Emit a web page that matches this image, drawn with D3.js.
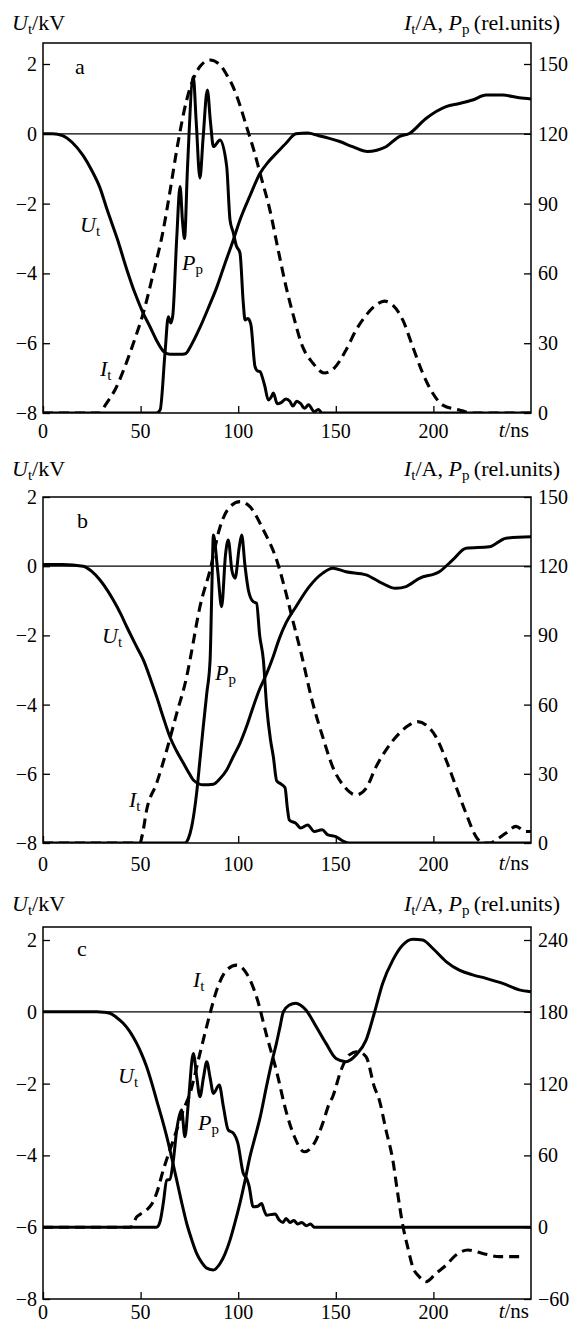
<!DOCTYPE html>
<html><head><meta charset="utf-8">
<script src="https://cdn.jsdelivr.net/npm/d3@7"></script>
<style>
body{margin:0;background:#fff}
svg{display:block}
text{font-family:"Liberation Serif","Times New Roman",Times,serif;fill:#000}
</style>
</head><body>
<svg id="chart" width="572" height="1326"></svg>
<script>
// ---------------- DATA ----------------
const xTicks = [0, 50, 100, 150, 200];
const leftTicks = [2, 0, -2, -4, -6, -8];
const rightTicksA = [150, 120, 90, 60, 30, 0];
const rightTicksB = [150, 120, 90, 60, 30, 0];
const rightTicksC = [240, 180, 120, 60, 0, -60];

// Panel a: U_t in kV (left axis), I_t and P_p on right axis
const uA = [[0,0],[5,0],[10,-0.05],[15,-0.25],[20.5,-0.62],[25,-1.05],[29,-1.52],[33,-2.2],[38,-3.0],[43,-3.9],[47,-4.55],[51,-5.1],[55,-5.55],[58,-5.9],[62,-6.25],[65,-6.32],[70,-6.32],[73,-6.3],[76,-6.05],[80,-5.6],[85,-4.95],[89,-4.4],[93,-3.75],[97.5,-3.04],[100.9,-2.47],[106,-1.78],[111.2,-1.13],[115.5,-0.8],[119.7,-0.55],[124.5,-0.27],[129.6,0.0],[135.6,0.02],[141,-0.05],[146.7,-0.13],[152,-0.22],[158.6,-0.37],[166.3,-0.51],[171,-0.47],[175.7,-0.37],[182.5,-0.08],[187.7,0.01],[196.2,0.44],[206.5,0.78],[213.3,0.87],[220.1,0.97],[227,1.11],[235.5,1.11],[244,1.03],[250,1.0]];
const iA = [[0,0],[29,0],[32,3.5],[37.7,11.3],[42,20],[46.3,30],[51.4,43],[56.5,60],[61.6,78.6],[65,95],[68.5,113],[73.6,134.5],[77,143.5],[80.4,148.9],[85.6,151.7],[90.7,149.6],[94,145.5],[97.5,140],[101,132],[104.3,123],[108,113],[111.2,103],[116.3,87],[120.5,70],[124.5,54.3],[127.9,43],[133,28.5],[138.2,21.5],[144.1,17.2],[149.2,19.3],[155.2,27],[160.4,35.7],[165.5,42],[170.6,46.4],[174.9,48.1],[179.2,46.4],[184.3,40],[189.4,28.5],[194.5,17.2],[199.6,8.6],[204.8,3.4],[213.3,1.3],[220,0],[250,0]];
const pA = [[0,0],[58,0],[60,1.3],[62.5,25.8],[64.2,41.4],[65.5,38.7],[66.5,42],[68.5,75],[70.2,97.3],[71.5,82],[72.5,75],[74,105],[77,144.5],[78.5,125],[80.4,101],[82,118],[84.2,138.8],[85.8,125],[87.3,114.5],[90.7,117.3],[94.1,106],[95.8,83],[97.5,77.4],[99,72],[100.9,68.8],[102.6,47.3],[103.5,40],[105,40.6],[106.5,38],[108.6,20],[110,18],[111.2,17.8],[112.5,15],[113.7,11.3],[115.4,5.6],[117,7],[118,8.6],[120,4],[122,4.5],[124.5,6],[126.5,5],[128,3],[130,5],[132,4],[134,2],[136,3.5],[139,0.5],[141,1.5],[143,0],[250,0]];

// Panel b
const uB = [[0,0.05],[10,0.05],[20.6,0.0],[25,-0.15],[29.2,-0.4],[33,-0.7],[36,-0.98],[40,-1.4],[42.9,-1.75],[48,-2.33],[51.4,-2.71],[55,-3.25],[58.2,-3.77],[61.5,-4.35],[65,-4.93],[68.5,-5.35],[71.9,-5.69],[75,-6.0],[77,-6.18],[82.1,-6.32],[87.3,-6.3],[90.5,-6.15],[94.1,-5.89],[97.5,-5.5],[100.9,-5.12],[104.5,-4.6],[107.7,-4.06],[111,-3.55],[114.6,-3.1],[118,-2.6],[121,-2.1],[124.5,-1.64],[129.6,-1.17],[136.4,-0.59],[143.3,-0.2],[148.4,-0.06],[155.2,-0.16],[165.5,-0.25],[172.3,-0.45],[180.8,-0.64],[186,-0.59],[192.8,-0.35],[203,-0.16],[209.9,0.18],[216.7,0.52],[228.6,0.56],[237.2,0.81],[250,0.85]];
const iB = [[0,0],[49.7,0],[51,4],[53.1,14.3],[58.2,25.9],[63.4,40.3],[68.5,56.2],[73.6,72.1],[75.3,79.3],[80.4,102.4],[85.6,118.4],[90.7,137],[95.8,145.8],[100.9,148],[106,145.8],[112.9,135.7],[119.7,122.7],[124.5,108.3],[127.9,96.7],[132.2,82.4],[138.2,60.6],[143.3,46],[148.4,33],[154.4,24.4],[160.4,20.8],[165.5,23.7],[170.6,33],[175.7,40.3],[182.5,47.5],[187.7,51.2],[192,52.6],[196.2,51.2],[201.3,46],[206.5,36],[211.6,24.4],[216.7,12.9],[221.8,2.8],[225.3,0],[229,0],[232,1.3],[237.2,4.3],[242.3,7.2],[247.4,5],[250,5]];
const pB = [[0,0],[72.7,0],[74.5,2],[76.2,7.2],[78.7,21.6],[80.4,36],[82.1,50.4],[83.9,64.9],[85.6,79.3],[86.5,110],[87.3,133.5],[89.5,118],[91.5,102.4],[93.5,125],[94.9,131.4],[96.8,118],[98.4,114.8],[100.5,128],[101.8,133.5],[103.5,120],[105.2,109.7],[107.7,104.6],[109.4,104],[111,90],[112.9,79.3],[114.6,59],[116.5,45],[118,37.4],[119.7,27],[122,25.5],[124,24],[125.2,15],[126.2,10],[129.6,8.5],[132,6.5],[135.6,7.8],[139,5],[143,5.7],[146,3.5],[150,2.8],[154,0.7],[157,0],[250,0]];

// Panel c
const uC = [[0,0],[27.6,0],[31,-0.01],[34.3,-0.04],[37.5,-0.15],[41.1,-0.32],[44.5,-0.55],[48,-0.88],[50.5,-1.17],[53.1,-1.53],[55.7,-1.98],[58.2,-2.46],[60.8,-2.95],[63.4,-3.48],[66,-4.08],[68.5,-4.69],[71,-5.3],[73.6,-5.89],[76.2,-6.35],[78.7,-6.73],[81.3,-6.98],[83.9,-7.14],[87.3,-7.19],[90.7,-7.01],[93.2,-6.75],[95.8,-6.36],[98.3,-5.88],[100.9,-5.33],[103.5,-4.7],[106,-4.04],[108.6,-3.5],[111.2,-2.95],[114.6,-2.05],[117,-1.45],[119.7,-0.85],[121.5,-0.4],[123.1,0.0],[126,0.18],[129.6,0.24],[132,0.18],[134.7,0.05],[139.9,-0.41],[145,-0.88],[150.1,-1.3],[155.2,-1.39],[160.4,-1.2],[165.5,-0.79],[169.7,-0.04],[174,0.79],[179.2,1.44],[184.3,1.86],[189.4,2.02],[194.5,2.0],[199.6,1.77],[206.5,1.4],[213.3,1.16],[220.1,1.03],[227,0.93],[235.5,0.79],[244,0.61],[250,0.56]];
const iC = [[0,0],[45,0],[46.5,4],[48,8.6],[50,11],[53.1,14.4],[56,20],[58.2,28.3],[61.6,47.7],[65,64.5],[68.5,81.2],[71.9,97.9],[75.3,111.8],[80.4,145.2],[85.6,178.8],[89,198.2],[94.1,214.8],[99.2,219],[104.3,212],[109.5,192],[114.6,160],[119.7,130],[124.5,97],[128.7,76],[133.9,63],[139.9,72.9],[143.3,86.8],[146.7,103.5],[148.4,109],[152.7,131.3],[156.9,144],[161.2,146.7],[165.5,142.5],[169.7,117.4],[172.3,106.2],[175.7,81.2],[179.2,56.2],[181.7,28.3],[184.3,1.7],[186.8,-16.4],[189.4,-33.1],[192.8,-41.5],[196.2,-45.6],[201.3,-38.7],[206.5,-31.7],[211.6,-23.3],[217.6,-19.1],[225.2,-21.9],[233.8,-24.6],[245.5,-24.6]];
const pC = [[0,0],[58.2,0],[60,5],[61.6,19.8],[63.4,39.3],[65,40],[66.8,56.2],[68.5,81.2],[71,97.9],[72.7,75.6],[74.5,105],[77,145.2],[78.8,125],[80.4,109],[82.2,125],[83.9,138.3],[85.6,125],[87.3,111.8],[90.3,118.8],[92.4,100.8],[94.9,81.2],[97.5,78.6],[99.8,70.2],[102.6,45],[104.3,40.8],[105.5,35],[107.7,17],[110,17.5],[112,19.8],[113.3,14],[114.6,10],[116.5,10.5],[118.9,11],[121,6],[123,4],[124.5,7.3],[126.5,4],[128.5,5.6],[130.5,2.7],[132.5,4],[135,1.2],[137,2.7],[139,0],[250,0]];

// ---------------- LAYOUT ----------------
const X0 = 43, X1 = 531;
const layout = [
  {tag:"a", u:uA, i:iA, p:pA, rTicks:rightTicksA, rDom:[0,150], y8:413, y2:64, top:43,
   titleY:30, tickLblY:438, tagPos:[75,74],
   lblU:[80,232], lblP:[182,270], lblI:[100,376]},
  {tag:"b", u:uB, i:iB, p:pB, rTicks:rightTicksB, rDom:[0,150], y8:843, y2:497, top:497,
   titleY:476, tickLblY:871, tagPos:[77,528],
   lblU:[102,643], lblP:[215,680], lblI:[129,807]},
  {tag:"c", u:uC, i:iC, p:pC, rTicks:rightTicksC, rDom:[-60,240], y8:1299, y2:940, top:927,
   titleY:911, tickLblY:1319, tagPos:[77,956],
   lblU:[118,1083], lblP:[198,1130], lblI:[193,987]}
];

const svg = d3.select("#chart");
const x = d3.scaleLinear().domain([0,250]).range([X0, X1]);
const FS = 20;

function addSeg(t, str, o={}) {
  const s = t.append("tspan").text(str);
  if (o.italic) s.attr("font-style","italic");
  if (o.fs) s.attr("font-size", o.fs);
  if (o.dy) s.attr("dy", o.dy);
  return s;
}

layout.forEach((P, k) => {
  const yL = d3.scaleLinear().domain([-8,2]).range([P.y8, P.y2]);
  const yR = d3.scaleLinear().domain(P.rDom).range([P.y8, P.y2]);
  const g = svg.append("g");

  const clipId = "clip" + k;
  svg.append("clipPath").attr("id", clipId).append("rect")
    .attr("x", X0).attr("y", P.top).attr("width", X1 - X0).attr("height", P.y8 - P.top);

  // zero reference line
  g.append("line").attr("x1", X0).attr("x2", X1)
    .attr("y1", yL(0)).attr("y2", yL(0))
    .attr("stroke", "#000").attr("stroke-width", 1.2);

  // curves
  const cg = g.append("g").attr("clip-path", `url(#${clipId})`);
  const lineL = d3.line().x(d => x(d[0])).y(d => yL(d[1])).curve(d3.curveMonotoneX);
  const lineR = d3.line().x(d => x(d[0])).y(d => yR(d[1])).curve(d3.curveMonotoneX);
  cg.append("path").attr("d", lineR(P.i)).attr("fill","none").attr("stroke","#000")
    .attr("stroke-width", 3.1).attr("stroke-dasharray","10,6");
  cg.append("path").attr("d", lineR(P.p)).attr("fill","none").attr("stroke","#000")
    .attr("stroke-width", 3).attr("stroke-linejoin","round");
  cg.append("path").attr("d", lineL(P.u)).attr("fill","none").attr("stroke","#000")
    .attr("stroke-width", 3).attr("stroke-linejoin","round");

  // axes
  const fmt = d => d < 0 ? "\u2212" + Math.abs(d) : d;
  const axL = d3.axisLeft(yL).tickValues(leftTicks).tickSizeInner(-7).tickSizeOuter(0).tickPadding(6).tickFormat(fmt);
  const axR = d3.axisRight(yR).tickValues(P.rTicks).tickSizeInner(-7).tickSizeOuter(0).tickPadding(7).tickFormat(fmt);
  const axB = d3.axisBottom(x).tickValues(xTicks).tickSizeInner(-7).tickSizeOuter(0).tickFormat("");

  [ [axL, `translate(${X0},0)`], [axR, `translate(${X1},0)`], [axB, `translate(0,${P.y8})`] ]
    .forEach(([ax, tr]) => {
      const a = g.append("g").attr("transform", tr).call(ax);
      a.select(".domain").remove();
      a.selectAll("line").attr("stroke","#000").attr("stroke-width",1.3);
      a.selectAll("text").attr("font-size", FS).attr("fill","#000");
    });

  // bottom tick labels
  g.selectAll(null).data(xTicks).enter().append("text")
    .attr("x", d => x(d)).attr("y", P.tickLblY).attr("text-anchor","middle")
    .attr("font-size", FS).text(d => d);

  // frame
  g.append("rect").attr("x", X0).attr("y", P.top).attr("width", X1 - X0).attr("height", P.y8 - P.top)
    .attr("fill","none").attr("stroke","#000").attr("stroke-width",1.5);

  // t/ns
  const tn = g.append("text").attr("x", 529).attr("y", P.tickLblY - 1).attr("text-anchor","end").attr("font-size", 21);
  addSeg(tn, "t", {italic:true}); addSeg(tn, "/ns");

  // titles
  const tl = g.append("text").attr("x", 12).attr("y", P.titleY).attr("font-size", 22);
  addSeg(tl, "U", {italic:true}); addSeg(tl, "t", {fs:15, dy:4}); addSeg(tl, "/kV", {dy:-4});
  const tr = g.append("text").attr("x", 560).attr("y", P.titleY).attr("font-size", 22).attr("text-anchor","end");
  addSeg(tr, "I", {italic:true}); addSeg(tr, "t", {fs:15, dy:4}); addSeg(tr, "/A, ", {dy:-4});
  addSeg(tr, "P", {italic:true}); addSeg(tr, "p", {fs:15, dy:4}); addSeg(tr, "\u2009(rel.units)", {dy:-4});

  // panel tag
  g.append("text").attr("x", P.tagPos[0]).attr("y", P.tagPos[1]).attr("font-size", 22).text(P.tag);

  // curve labels
  [[P.lblU,"U","t"],[P.lblP,"P","p"],[P.lblI,"I","t"]].forEach(([pos, m, s]) => {
    const t = g.append("text").attr("x", pos[0]).attr("y", pos[1]).attr("font-size", 22);
    addSeg(t, m, {italic:true}); addSeg(t, s, {fs:15, dy:4});
  });
});
</script>
</body></html>
